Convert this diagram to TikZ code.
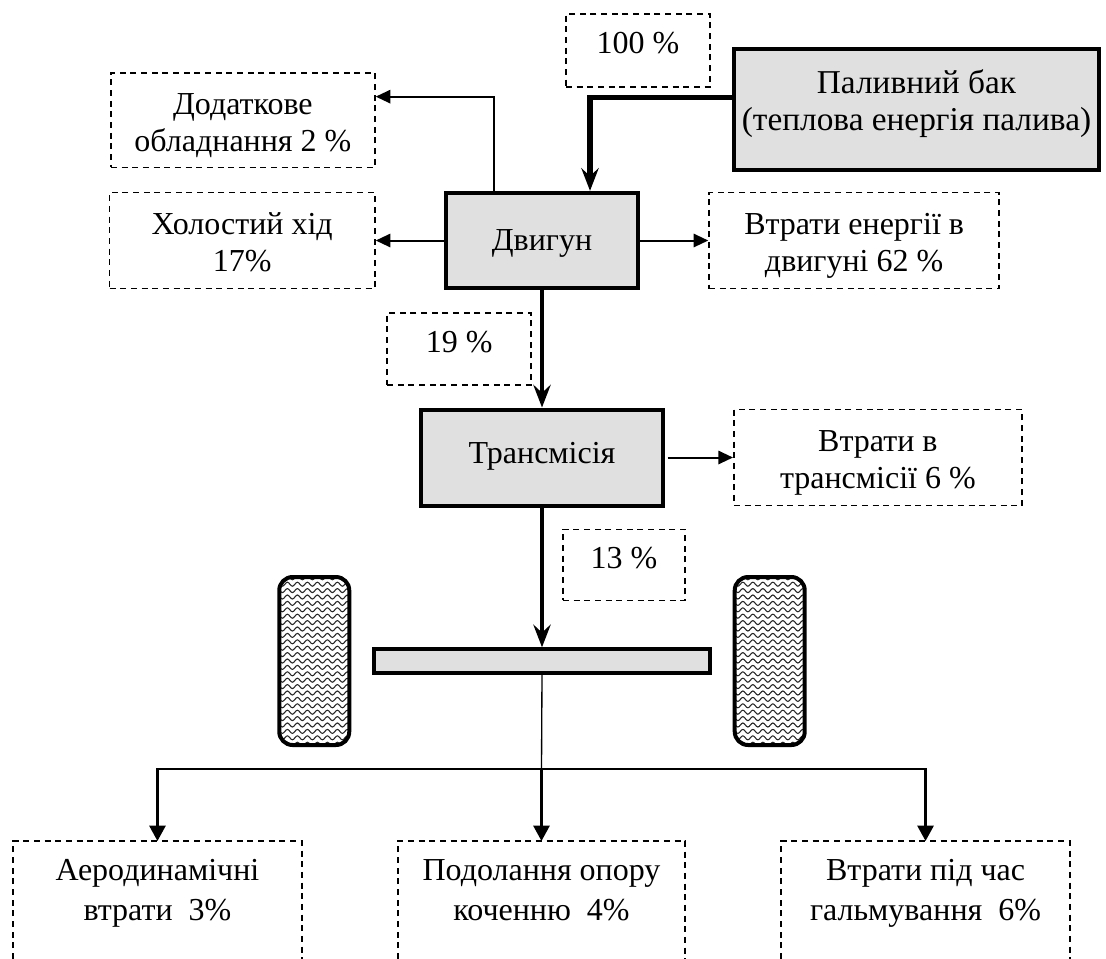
\documentclass[tikz,border=0pt]{standalone}
\usepackage{fontspec}
\setmainfont{Liberation Serif}
\usetikzlibrary{arrows.meta, positioning, decorations.pathmorphing}

\tikzset{
	labeltext/.style = {font=\fontsize{24}{27.75}\selectfont, align=center, inner sep=0pt, execute at begin node=\strut, execute at end node=\strut},
	mainbox/.style = {labeltext, draw, line width=3pt, fill=black!12},
	lossbox/.style = {labeltext, draw, line width=1.3pt, dash pattern=on 4.5pt off 3.5pt},
	twoline/.style = {lossbox, text height=55pt},
	pctbox/.style = {lossbox, text height=27.4pt, text depth=22.5pt},
	openbox/.style = {labeltext, font=\fontsize{24}{30}\selectfont, minimum height=75pt, text height=53pt},
	openline/.style = {line width=1.3pt, dash pattern=on 4.5pt off 3.5pt},
	wheel/.style = {draw, line width=3pt, rounded corners=10pt, minimum width=52.5pt, minimum height=126pt, inner sep=0pt,
		path picture={
			\foreach \rowy in {-62.4,-57.6,...,64}
			\draw[sharp corners, line width=0.8pt, black!85, decorate, decoration={snake, segment length=7.5pt, amplitude=1.5pt}]
			([xshift=-30pt, yshift=\rowy pt]path picture bounding box.center) -- ([xshift=30pt, yshift=\rowy pt]path picture bounding box.center);
		}},
	thinflow/.style = {line width=1.5pt, -{Triangle[length=11pt, width=10pt]}},
	thickflow/.style = {line width=3.3pt, -{Stealth[length=17pt, width=13pt, inset=6pt]}},
	busflow/.style = {line width=2pt, -{Triangle[length=11.5pt, width=12pt]}}
}

\begin{document}
\begin{tikzpicture}[x=0.75pt, y=-0.75pt]
	\useasboundingbox (0,0) rectangle (1106,958);
	\node (engine) [mainbox, text height=24pt, minimum width=144pt, minimum height=71.5pt] at (542,240.5) {Двигун};
	\node (idle) [twoline, minimum width=199pt, minimum height=72pt, left=51.2pt of engine] {Холостий хід\\17\%};
	\node (aux) [twoline, minimum width=198pt, minimum height=71pt, above=17.5pt of idle.north east, anchor=south east] {Додаткове\\обладнання 2 \%};
	\node (engloss) [twoline, minimum width=217.5pt, minimum height=72pt, right=51.2pt of engine] {Втрати енергії в\\двигуні 62 \%};
	\node (tank) [mainbox, font=\fontsize{25}{27.75}\selectfont, text depth=14.3pt, minimum width=273.75pt, minimum height=90.75pt] at (916.5,109.5) {Паливний бак\\(теплова енергія палива)};
	\node (pct100) [pctbox, minimum width=108pt, minimum height=54.75pt] at (638,50.5) {100 \%};
	\node (pct19) [pctbox, minimum width=108pt, minimum height=54pt, below left=16.5pt and 7.5pt of engine.south] {19 \%};
	\node (trans) [mainbox, text depth=10pt, minimum width=181.5pt, minimum height=72pt, below=88pt of engine] {Трансмісія};
	\node (transloss) [twoline, minimum width=216pt, minimum height=72pt, right=51pt of trans] {Втрати в\\трансмісії 6 \%};
	\node (pct13) [pctbox, minimum width=91.5pt, minimum height=53.25pt, below right=15.75pt and 15pt of trans.south] {13 \%};
	\node (axle) [draw, line width=2.6pt, fill=black!12, minimum width=252pt, minimum height=18pt, inner sep=0pt] at (542,661) {};
	\node (wheell) [wheel, left=15.75pt of axle] {};
	\node (wheelr) [wheel, right=15.75pt of axle] {};
	\coordinate (bus) at (541.5,769);
	\node (rolling) [openbox, minimum width=215.25pt, below=54pt of bus] {Подолання опору\\коченню~~4\%};
	\node (aero) [openbox, minimum width=216pt, left=72pt of rolling] {Аеродинамічні\\втрати~~3\%};
	\node (brake) [openbox, minimum width=216pt, right=72pt of rolling] {Втрати під час\\гальмування~~6\%};
	\foreach \boxname in {rolling, aero, brake}
	\draw[openline] ([yshift=-13pt]\boxname.south west) -- (\boxname.north west) -- (\boxname.north east) -- ([yshift=-13pt]\boxname.south east);
	\draw[thickflow, line width=3.8pt] ([yshift=9pt]tank.west) -| ([xshift=36pt]engine.north);
	\draw[thinflow] ([xshift=-36pt]engine.north) |- ([yshift=17.6pt]aux.east);
	\draw[thinflow] (engine) -- (idle);
	\draw[thinflow] (engine) -- (engloss);
	\draw[thickflow] (engine.south) -- (trans.north);
	\draw[thinflow] ([xshift=2pt]trans.east) -- (transloss);
	\draw[thickflow] (trans.south) -- (axle.north);
	\draw[line width=1pt] (axle.south) -- (bus);
	\draw[busflow] (bus) -- (rolling.north);
	\draw[busflow] (bus) -| (aero.north);
	\draw[busflow] (bus) -| (brake.north);
\end{tikzpicture}
\end{document}
